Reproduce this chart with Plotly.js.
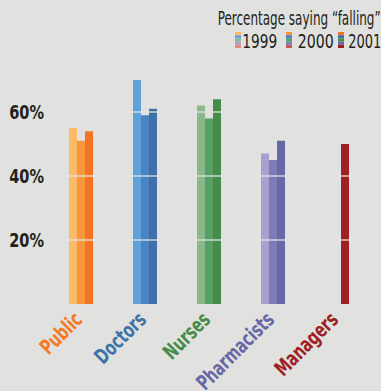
<!DOCTYPE html>
<html>
<head>
<meta charset="utf-8">
<script src="https://cdn.plot.ly/plotly-3.0.1.min.js"></script>
<style>
html,body{margin:0;padding:0;background:#e1e1df;}
#chart{width:381px;height:391px;}
</style>
</head>
<body>
<div id="chart"></div>
<script>
// ---- data ----
var categories = ["Public", "Doctors", "Nurses", "Pharmacists", "Managers"];
var years = ["1999", "2000", "2001"];
var values1999 = [55, 70, 62, 47, null];
var values2000 = [51, 59, 58, 45, null];
var values2001 = [54, 61, 64, 51, 50];
var yTickVals = [20, 40, 60];
var yTickText = ["20%", "40%", "60%"];
var legendTitle = "Percentage saying \u201cfalling\u201d";

// ---- styling ----
var catColors = ["#f47a26", "#3f72a9", "#468b4a", "#6868a6", "#9e1f24"];
var colors1999 = ["#fdb964", "#5fa2d9", "#89b98b", "#a7a1d0", "#e08c7c"];
var colors2000 = ["#f8963f", "#4a84c3", "#57a064", "#7f7bbb", "#c05a50"];
var colors2001 = ["#f47324", "#3e70a8", "#478b4b", "#6669a5", "#9e1f24"];
var yearColors = [colors1999, colors2000, colors2001];
var yearValues = [values1999, values2000, values2001];

var FONT = "'DejaVu Sans Condensed', 'Liberation Sans Narrow', sans-serif";
var BG = "#e1e1df";

var traces = years.map(function (y, i) {
  return {
    type: "bar",
    name: y,
    x: categories,
    y: yearValues[i],
    marker: { color: yearColors[i], line: { width: 0 } },
    hoverinfo: "x+y+name"
  };
});

var tickText = categories.map(function (c, i) {
  return '<span style="color:' + catColors[i] + '">' + c + '</span>';
});

// plot area in pixels
var L = 49, R = 12, T = 64, B = 87;
var W = 381 - L - R, H = 391 - T - B;
function px(x) { return (x - L) / W; }
function py(y) { return (391 - B - y) / H; }

var shapes = [];
// gridlines drawn over bars
yTickVals.forEach(function (v) {
  shapes.push({
    type: "line", xref: "paper", yref: "y", x0: 0, x1: 1, y0: v, y1: v,
    layer: "above", line: { color: "rgba(228,228,226,0.85)", width: 1.5 }
  });
});
// legend swatches (striped with category colours)
var swX = [235, 286, 338];
var swTop = 32, swH = 16, swW = 6;
yearColors.forEach(function (cols, i) {
  cols.forEach(function (c, j) {
    var t = swTop + j * swH / cols.length;
    shapes.push({
      type: "rect", xref: "paper", yref: "paper",
      x0: px(swX[i]), x1: px(swX[i] + swW),
      y0: py(t + swH / cols.length), y1: py(t),
      line: { width: 0 }, fillcolor: c
    });
  });
});

var annotations = [{
  xref: "paper", yref: "paper", x: px(298.5), y: py(18),
  xanchor: "center", yanchor: "middle", showarrow: false,
  text: legendTitle, font: { family: FONT, size: 19, weight: 500, color: "#231f20" }
}];
var labelCenters = [260, 315.5, 364.5];
years.forEach(function (y, i) {
  annotations.push({
    xref: "paper", yref: "paper", x: px(labelCenters[i]), y: py(40.5),
    xanchor: "center", yanchor: "middle", showarrow: false,
    text: y, font: { family: FONT, size: 19, weight: 500, color: "#231f20" }
  });
});
// target text widths (px) for the narrow look
var annWidths = [163, 35, 36, 33];

var layout = {
  width: 381, height: 391,
  margin: { l: L, r: R, t: T, b: B, pad: 0 },
  paper_bgcolor: BG, plot_bgcolor: BG,
  barmode: "group", bargap: 0.625, bargroupgap: 0,
  showlegend: false,
  font: { family: FONT },
  xaxis: {
    type: "category",
    tickvals: categories, ticktext: tickText,
    tickangle: -45, ticks: "", showgrid: false, zeroline: false, showline: false,
    tickfont: { family: FONT, size: 21, weight: 700 },
    ticklabelshift: -5, ticklabelstandoff: -2,
    range: [-0.5, 4.5], fixedrange: true
  },
  yaxis: {
    range: [0, 75], tickvals: yTickVals, ticktext: yTickText,
    ticks: "", showgrid: false, zeroline: false, showline: false,
    tickfont: { family: FONT, size: 19, weight: 700, color: "#231f20" },
    ticklabelstandoff: 4, fixedrange: true
  },
  shapes: shapes,
  annotations: annotations
};

function squeeze(el, target) {
  var len = el.getComputedTextLength();
  if (len > 0) {
    el.setAttribute("textLength", target);
    el.setAttribute("lengthAdjust", "spacingAndGlyphs");
  }
}

Plotly.newPlot("chart", traces, layout, { displayModeBar: false, staticPlot: true }).then(function (gd) {
  var ann = gd.querySelectorAll("text.annotation-text");
  ann.forEach(function (el, i) { squeeze(el, annWidths[i]); });
  gd.querySelectorAll(".xtick text").forEach(function (el) {
    squeeze(el, el.getComputedTextLength() * 0.76);
  });
  gd.querySelectorAll(".ytick text").forEach(function (el) {
    squeeze(el, el.getComputedTextLength() * 0.85);
  });
});
</script>
</body>
</html>
